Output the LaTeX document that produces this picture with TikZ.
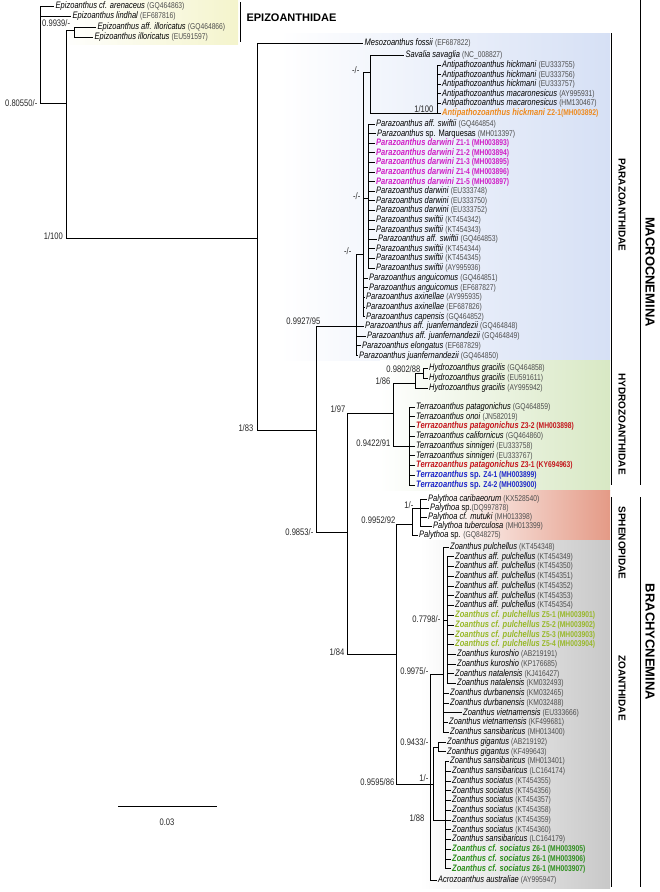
\documentclass[tikz,border=0pt]{standalone}
\usepackage{fontspec}
\setmainfont{Liberation Sans}[FakeStretch=0.8]
\newfontfamily\labfont{Liberation Sans}

\definecolor{pinkz}{HTML}{D01FC6}
\definecolor{orangez}{HTML}{EE8A1E}
\definecolor{redz}{HTML}{C4161C}
\definecolor{bluez}{HTML}{1C27C9}
\definecolor{limez}{HTML}{98B828}
\definecolor{greenz}{HTML}{2F8F1F}
\definecolor{accgray}{HTML}{4D4D4D}
\definecolor{epibg}{HTML}{F4F4CC}
\definecolor{parabg}{HTML}{D6E0F5}
\definecolor{hydrobg}{HTML}{D8E8C4}
\definecolor{sphebg}{HTML}{E49A86}
\definecolor{zoabg}{HTML}{C8C8C8}

\newcommand{\leaffont}{\fontsize{9.4}{10}\selectfont}
\newcommand{\suppfont}{\fontsize{9.5}{10}\selectfont}
\newcommand{\acc}[1]{{\fontsize{8.4}{9}\selectfont\color{accgray}(#1)}}
\newcommand{\nm}[2]{\textit{#1} \acc{#2}}
\newcommand{\hl}[3]{{\color{#1}\bfseries\textit{#2} {\fontsize{8.4}{9}\selectfont #3}}}

\begin{document}
\begin{tikzpicture}[x=1pt,y=-1pt,
  leaf/.style={anchor=west,inner sep=1.5pt,font=\leaffont,text height=6.9pt,text depth=2pt},
  br/.style={line width=0.85pt},
  supp/.style={anchor=east,inner sep=0.5pt,font=\suppfont,text=black!85},
  bar/.style={line width=1pt},
  grp/.style={font=\labfont\bfseries\fontsize{11}{12}\selectfont},
  fam/.style={rotate=-90,font=\labfont\bfseries\fontsize{10}{11}\selectfont},
  subord/.style={rotate=-90,font=\labfont\bfseries\fontsize{13}{14}\selectfont}]
\useasboundingbox (0,0) rectangle (660,892);

% Backgrounds
\shade[left color=white,right color=epibg] (60,0) rectangle (238,44);
\shade[left color=white,right color=parabg] (280,33) rectangle (610,360);
\shade[left color=white,right color=hydrobg] (380,360) rectangle (610,490);
\shade[left color=white,right color=sphebg] (440,490) rectangle (610,540);
\shade[left color=white,right color=zoabg] (420,540) rectangle (610,888);

% Internal nodes
\coordinate (nRoot) at (40,103);
\coordinate (nA) at (66,103);
\coordinate (nIllo) at (74,30);
\coordinate (nIng) at (257,238);
\coordinate (nMid) at (316,430);
\coordinate (nPara) at (356,326.5);
\coordinate (nParaA) at (363,254);
\coordinate (nSA) at (370,72);
\coordinate (nAnt) at (437,113);
\coordinate (nDS) at (368,198);
\coordinate (nHTB) at (347,532);
\coordinate (nHT) at (393,413);
\coordinate (nHydro) at (415,383);
\coordinate (nHg) at (423,373);
\coordinate (nTerra) at (409,446);
\coordinate (nBrachy) at (396,654);
\coordinate (nPaly) at (412,524);
\coordinate (nPaly2) at (420,508);
\coordinate (nZoanth) at (430,784);
\coordinate (nZ1) at (443,674);
\coordinate (nZ1a) at (447,620);
\coordinate (nZZ) at (433,784);
\coordinate (nGig) at (438,747);
\coordinate (nSoc) at (445,820);

% Leaves
\node[leaf] (e1) at (54,6) {\nm{Epizoanthus cf. arenaceus}{GQ464863}};
\node[leaf] (e2) at (71,16.5) {\nm{Epizoanthus lindhal}{EF687816}};
\node[leaf] (e3) at (96,27) {\nm{Epizoanthus aff. illoricatus}{GQ464866}};
\node[leaf] (e4) at (93,37) {\nm{Epizoanthus illoricatus}{EU591597}};
\node[leaf] (m1) at (363,43) {\nm{Mesozoanthus fossii}{EF687822}};
\node[leaf] (s1) at (404,55) {\nm{Savalia savaglia}{NC\_008827}};
\node[leaf] (a1) at (440.5,65) {\nm{Antipathozoanthus hickmani}{EU333755}};
\node[leaf] (a2) at (440.5,74.6) {\nm{Antipathozoanthus hickmani}{EU333756}};
\node[leaf] (a3) at (440.5,84.2) {\nm{Antipathozoanthus hickmani}{EU333757}};
\node[leaf] (a4) at (440.5,93.8) {\nm{Antipathozoanthus macaronesicus}{AY995931}};
\node[leaf] (a5) at (440.5,103.4) {\nm{Antipathozoanthus macaronesicus}{HM130467}};
\node[leaf] (a6) at (440.5,113) {\hl{orangez}{Antipathozoanthus hickmani}{Z2-1(MH003892)}};
\node[leaf] (p1) at (374.5,124) {\nm{Parazoanthus aff. swiftii}{GQ464854}};
\node[leaf] (p2) at (375.5,133.6) {\textit{Parazoanthus} sp. Marquesas \acc{MH013397}};
\node[leaf] (p3) at (374.5,143.2) {\hl{pinkz}{Parazoanthus darwini}{Z1-1 (MH003893)}};
\node[leaf] (p4) at (374.5,152.8) {\hl{pinkz}{Parazoanthus darwini}{Z1-2 (MH003894)}};
\node[leaf] (p5) at (374.5,162.4) {\hl{pinkz}{Parazoanthus darwini}{Z1-3 (MH003895)}};
\node[leaf] (p6) at (374.5,172) {\hl{pinkz}{Parazoanthus darwini}{Z1-4 (MH003896)}};
\node[leaf] (p7) at (374.5,181.6) {\hl{pinkz}{Parazoanthus darwini}{Z1-5 (MH003897)}};
\node[leaf] (p8) at (374.5,191.2) {\nm{Parazoanthus darwini}{EU333748}};
\node[leaf] (p9) at (374.5,200.8) {\nm{Parazoanthus darwini}{EU333750}};
\node[leaf] (p10) at (374.5,210.4) {\nm{Parazoanthus darwini}{EU333752}};
\node[leaf] (p11) at (374.5,220) {\nm{Parazoanthus swiftii}{KT454342}};
\node[leaf] (p12) at (374.5,229.6) {\nm{Parazoanthus swiftii}{KT454343}};
\node[leaf] (p13) at (376.5,239.2) {\nm{Parazoanthus aff. swiftii}{GQ464853}};
\node[leaf] (p14) at (374.5,248.8) {\nm{Parazoanthus swiftii}{KT454344}};
\node[leaf] (p15) at (374.5,258.4) {\nm{Parazoanthus swiftii}{KT454345}};
\node[leaf] (p16) at (374.5,268) {\nm{Parazoanthus swiftii}{AY995936}};
\node[leaf] (q1) at (367.5,278) {\nm{Parazoanthus anguicomus}{GQ464851}};
\node[leaf] (q2) at (367.5,287.7) {\nm{Parazoanthus anguicomus}{EF687827}};
\node[leaf] (q3) at (364.5,297.4) {\nm{Parazoanthus axinellae}{AY995935}};
\node[leaf] (q4) at (364.5,307.1) {\nm{Parazoanthus axinellae}{EF687826}};
\node[leaf] (q5) at (364.5,316.8) {\nm{Parazoanthus capensis}{GQ464852}};
\node[leaf] (q6) at (363.5,326.5) {\nm{Parazoanthus aff. juanfernandezii}{GQ464848}};
\node[leaf] (q7) at (365.5,336.2) {\nm{Parazoanthus aff. juanfernandezii}{GQ464849}};
\node[leaf] (q8) at (360.5,345.9) {\nm{Parazoanthus elongatus}{EF687829}};
\node[leaf] (q9) at (357.5,355.6) {\nm{Parazoanthus juanfernandezii}{GQ464850}};
\node[leaf] (h1) at (427.5,368) {\nm{Hydrozoanthus gracilis}{GQ464858}};
\node[leaf] (h2) at (427.5,378) {\nm{Hydrozoanthus gracilis}{EU591611}};
\node[leaf] (h3) at (427.5,388) {\nm{Hydrozoanthus gracilis}{AY995942}};
\node[leaf] (t1) at (414.5,407) {\nm{Terrazoanthus patagonichus}{GQ464859}};
\node[leaf] (t2) at (414.5,416.75) {\nm{Terrazoanthus onoi}{JN582019}};
\node[leaf] (t3) at (414.5,426.5) {\hl{redz}{Terrazoanthus patagonichus}{Z3-2 (MH003898)}};
\node[leaf] (t4) at (414.5,436.25) {\nm{Terrazoanthus californicus}{GQ464860}};
\node[leaf] (t5) at (414.5,446) {\nm{Terrazoanthus sinnigeri}{EU333758}};
\node[leaf] (t6) at (414.5,455.75) {\nm{Terrazoanthus sinnigeri}{EU333767}};
\node[leaf] (t7) at (414.5,465.5) {\hl{redz}{Terrazoanthus patagonichus}{Z3-1 (KY694963)}};
\node[leaf] (t8) at (414.5,475.25) {\hl{bluez}{Terrazoanthus \textup{sp.}}{Z4-1 (MH003899)}};
\node[leaf] (t9) at (414.5,485) {\hl{bluez}{Terrazoanthus \textup{sp.}}{Z4-2 (MH003900)}};
\node[leaf] (y1) at (426.5,499) {\nm{Palythoa caribaeorum}{KX528540}};
\node[leaf] (y2) at (428.5,508) {\textit{Palythoa} sp.\acc{DQ997878}};
\node[leaf] (y3) at (426.5,517) {\nm{Palythoa cf. mutuki}{MH013398}};
\node[leaf] (y4) at (431.5,526) {\nm{Palythoa tuberculosa}{MH013399}};
\node[leaf] (y5) at (417.5,535) {\textit{Palythoa} sp. \acc{GQ848275}};
\node[leaf] (z1) at (448.5,547) {\nm{Zoanthus pulchellus}{KT454348}};
\node[leaf] (z2) at (453.5,556.75) {\nm{Zoanthus aff. pulchellus}{KT454349}};
\node[leaf] (z3) at (453.5,566.5) {\nm{Zoanthus aff. pulchellus}{KT454350}};
\node[leaf] (z4) at (453.5,576.25) {\nm{Zoanthus aff. pulchellus}{KT454351}};
\node[leaf] (z5) at (453.5,586) {\nm{Zoanthus aff. pulchellus}{KT454352}};
\node[leaf] (z6) at (453.5,595.75) {\nm{Zoanthus aff. pulchellus}{KT454353}};
\node[leaf] (z7) at (453.5,605.5) {\nm{Zoanthus aff. pulchellus}{KT454354}};
\node[leaf] (z8) at (453.5,615.25) {\hl{limez}{Zoanthus cf. pulchellus}{Z5-1 (MH003901)}};
\node[leaf] (z9) at (453.5,625) {\hl{limez}{Zoanthus cf. pulchellus}{Z5-2 (MH003902)}};
\node[leaf] (z10) at (453.5,634.75) {\hl{limez}{Zoanthus cf. pulchellus}{Z5-3 (MH003903)}};
\node[leaf] (z11) at (453.5,644.5) {\hl{limez}{Zoanthus cf. pulchellus}{Z5-4 (MH003904)}};
\node[leaf] (z12) at (455.5,654.25) {\nm{Zoanthus kuroshio}{AB219191}};
\node[leaf] (z13) at (455.5,664) {\nm{Zoanthus kuroshio}{KP176685}};
\node[leaf] (z14) at (453.5,673.75) {\nm{Zoanthus natalensis}{KJ416427}};
\node[leaf] (z15) at (455.5,683.5) {\nm{Zoanthus natalensis}{KM032493}};
\node[leaf] (z16) at (448.5,693.25) {\nm{Zoanthus durbanensis}{KM032465}};
\node[leaf] (z17) at (448.5,703) {\nm{Zoanthus durbanensis}{KM032488}};
\node[leaf] (z18) at (461.5,712.75) {\nm{Zoanthus vietnamensis}{EU333666}};
\node[leaf] (z19) at (447.5,722.5) {\nm{Zoanthus vietnamensis}{KF499681}};
\node[leaf] (z20) at (448.5,732.25) {\nm{Zoanthus sansibaricus}{MH013400}};
\node[leaf] (z21) at (445.5,742) {\nm{Zoanthus gigantus}{AB219192}};
\node[leaf] (z22) at (445.5,751.75) {\nm{Zoanthus gigantus}{KF499643}};
\node[leaf] (z23) at (448.5,761.5) {\nm{Zoanthus sansibaricus}{MH013401}};
\node[leaf] (z24) at (450.5,771.25) {\nm{Zoanthus sansibaricus}{LC164174}};
\node[leaf] (z25) at (450.5,781) {\nm{Zoanthus sociatus}{KT454355}};
\node[leaf] (z26) at (450.5,790.75) {\nm{Zoanthus sociatus}{KT454356}};
\node[leaf] (z27) at (450.5,800.5) {\nm{Zoanthus sociatus}{KT454357}};
\node[leaf] (z28) at (450.5,810.25) {\nm{Zoanthus sociatus}{KT454358}};
\node[leaf] (z29) at (450.5,820) {\nm{Zoanthus sociatus}{KT454359}};
\node[leaf] (z30) at (450.5,829.75) {\nm{Zoanthus sociatus}{KT454360}};
\node[leaf] (z31) at (450.5,839.5) {\nm{Zoanthus sansibaricus}{LC164179}};
\node[leaf] (z32) at (450.5,849.25) {\hl{greenz}{Zoanthus cf. sociatus}{Z6-1 (MH003905)}};
\node[leaf] (z33) at (450.5,859) {\hl{greenz}{Zoanthus cf. sociatus}{Z6-1 (MH003906)}};
\node[leaf] (z34) at (450.5,868.75) {\hl{greenz}{Zoanthus cf. sociatus}{Z6-1 (MH003907)}};
\node[leaf] (ac) at (436.5,880) {\nm{Acrozoanthus australiae}{AY995947}};

% Branches
\draw[br] (nRoot) |- (e1.west);
\draw[br] (nRoot) |- (e2.west);
\draw[br] (nRoot) -- (nA);
\draw[br] (nA) |- (nIllo);
\draw[br] (nA) |- (nIng);
\draw[br] (nIllo) |- (e3.west);
\draw[br] (nIllo) |- (e4.west);
\draw[br] (nIng) |- (m1.west);
\draw[br] (nIng) |- (nMid);
\draw[br] (nMid) |- (nPara);
\draw[br] (nMid) |- (nHTB);
\draw[br] (nPara) |- (nParaA);
\draw[br] (nPara) |- (q6.west);
\draw[br] (nPara) |- (q7.west);
\draw[br] (nPara) |- (q8.west);
\draw[br] (nPara) |- (q9.west);
\draw[br] (nParaA) |- (nSA);
\draw[br] (nParaA) |- (nDS);
\draw[br] (nParaA) |- (q1.west);
\draw[br] (nParaA) |- (q2.west);
\draw[br] (nParaA) |- (q3.west);
\draw[br] (nParaA) |- (q4.west);
\draw[br] (nParaA) |- (q5.west);
\draw[br] (nSA) |- (s1.west);
\draw[br] (nSA) |- (nAnt);
\draw[br] (nAnt) |- (a1.west);
\draw[br] (nAnt) |- (a2.west);
\draw[br] (nAnt) |- (a3.west);
\draw[br] (nAnt) |- (a4.west);
\draw[br] (nAnt) |- (a5.west);
\draw[br] (nAnt) |- (a6.west);
\draw[br] (nDS) |- (p1.west);
\draw[br] (nDS) |- (p2.west);
\draw[br] (nDS) |- (p3.west);
\draw[br] (nDS) |- (p4.west);
\draw[br] (nDS) |- (p5.west);
\draw[br] (nDS) |- (p6.west);
\draw[br] (nDS) |- (p7.west);
\draw[br] (nDS) |- (p8.west);
\draw[br] (nDS) |- (p9.west);
\draw[br] (nDS) |- (p10.west);
\draw[br] (nDS) |- (p11.west);
\draw[br] (nDS) |- (p12.west);
\draw[br] (nDS) |- (p13.west);
\draw[br] (nDS) |- (p14.west);
\draw[br] (nDS) |- (p15.west);
\draw[br] (nDS) |- (p16.west);
\draw[br] (nHTB) |- (nHT);
\draw[br] (nHTB) |- (nBrachy);
\draw[br] (nHT) |- (nHydro);
\draw[br] (nHT) |- (nTerra);
\draw[br] (nHydro) |- (nHg);
\draw[br] (nHydro) |- (h3.west);
\draw[br] (nHg) |- (h1.west);
\draw[br] (nHg) |- (h2.west);
\draw[br] (nTerra) |- (t1.west);
\draw[br] (nTerra) |- (t2.west);
\draw[br] (nTerra) |- (t3.west);
\draw[br] (nTerra) |- (t4.west);
\draw[br] (nTerra) |- (t5.west);
\draw[br] (nTerra) |- (t6.west);
\draw[br] (nTerra) |- (t7.west);
\draw[br] (nTerra) |- (t8.west);
\draw[br] (nTerra) |- (t9.west);
\draw[br] (nBrachy) |- (nPaly);
\draw[br] (nBrachy) |- (nZoanth);
\draw[br] (nPaly) |- (nPaly2);
\draw[br] (nPaly) |- (y5.west);
\draw[br] (nPaly2) |- (y1.west);
\draw[br] (nPaly2) |- (y2.west);
\draw[br] (nPaly2) |- (y3.west);
\draw[br] (nPaly2) |- (y4.west);
\draw[br] (nZoanth) |- (nZ1);
\draw[br] (nZoanth) |- (nZZ);
\draw[br] (nZoanth) |- (ac.west);
\draw[br] (nZ1) |- (z1.west);
\draw[br] (nZ1) |- (nZ1a);
\draw[br] (nZ1) |- (z16.west);
\draw[br] (nZ1) |- (z17.west);
\draw[br] (nZ1) |- (z18.west);
\draw[br] (nZ1) |- (z19.west);
\draw[br] (nZ1) |- (z20.west);
\draw[br] (nZ1a) |- (z2.west);
\draw[br] (nZ1a) |- (z3.west);
\draw[br] (nZ1a) |- (z4.west);
\draw[br] (nZ1a) |- (z5.west);
\draw[br] (nZ1a) |- (z6.west);
\draw[br] (nZ1a) |- (z7.west);
\draw[br] (nZ1a) |- (z8.west);
\draw[br] (nZ1a) |- (z9.west);
\draw[br] (nZ1a) |- (z10.west);
\draw[br] (nZ1a) |- (z11.west);
\draw[br] (nZ1a) |- (z12.west);
\draw[br] (nZ1a) |- (z13.west);
\draw[br] (nZ1a) |- (z14.west);
\draw[br] (nZ1a) |- (z15.west);
\draw[br] (nZZ) |- (nGig);
\draw[br] (nZZ) |- (nSoc);
\draw[br] (nGig) |- (z21.west);
\draw[br] (nGig) |- (z22.west);
\draw[br] (nSoc) |- (z23.west);
\draw[br] (nSoc) |- (z24.west);
\draw[br] (nSoc) |- (z25.west);
\draw[br] (nSoc) |- (z26.west);
\draw[br] (nSoc) |- (z27.west);
\draw[br] (nSoc) |- (z28.west);
\draw[br] (nSoc) |- (z29.west);
\draw[br] (nSoc) |- (z30.west);
\draw[br] (nSoc) |- (z31.west);
\draw[br] (nSoc) |- (z32.west);
\draw[br] (nSoc) |- (z33.west);
\draw[br] (nSoc) |- (z34.west);

% Support values
\node[supp] (sp1) at (38,103) {0.80550/-};
\node[supp,anchor=west] (sp2) at (41.5,23.5) {0.9939/-};
\node[supp] (sp3) at (63.5,236) {1/100};
\node[supp] (sp4) at (254,428) {1/83};
\node[supp] (sp5) at (321,321) {0.9927/95};
\node[supp] (sp6) at (314,532) {0.9853/-};
\node[supp] (sp7) at (360,70) {-/-};
\node[supp] (sp8) at (361,196) {-/-};
\node[supp] (sp9) at (352,251) {-/-};
\node[supp] (sp10) at (434,109) {1/100};
\node[supp] (sp11) at (421,369) {0.9802/88};
\node[supp] (sp12) at (391,381) {1/86};
\node[supp] (sp13) at (346,409) {1/97};
\node[supp] (sp14) at (391,443) {0.9422/91};
\node[supp] (sp15) at (345,652) {1/84};
\node[supp] (sp16) at (396,520) {0.9952/92};
\node[supp] (sp17) at (414,505) {1/-};
\node[supp] (sp18) at (395,782) {0.9595/86};
\node[supp] (sp19) at (441,619) {0.7798/-};
\node[supp] (sp20) at (429,671) {0.9975/-};
\node[supp] (sp21) at (429,742) {0.9433/-};
\node[supp] (sp22) at (429,778) {1/-};
\node[supp] (sp23) at (425,818) {1/88};

% Clades
\draw[bar] (240,2) -- (240,42);
\node[grp,anchor=west] (gEpi) at (243,17.5) {EPIZOANTHIDAE};
\draw[bar] (611,33) -- (611,485);
\draw[bar] (611,497) -- (611,887);
\draw[bar] (640,0) -- (640,485);
\draw[bar] (640,497) -- (640,887);
\node[fam] (fPara) at (622,205) {PARAZOANTHIDAE};
\node[fam] (fHydro) at (622,424) {HYDROZOANTHIDAE};
\node[fam] (fSphe) at (622,543) {SPHENOPIDAE};
\node[fam] (fZoa) at (622,688) {ZOANTHIDAE};
\node[subord] (oMacro) at (650,272) {MACROCNEMINA};
\node[subord] (oBrachy) at (650,642) {BRACHYCNEMINA};

% Scale
\coordinate (sbL) at (118,806);
\coordinate (sbR) at (217,806);
\draw[line width=1pt] (sbL) -- (sbR);
\node[font=\suppfont,text=black!85] (sbT) at (167,822) {0.03};
\end{tikzpicture}
\end{document}
